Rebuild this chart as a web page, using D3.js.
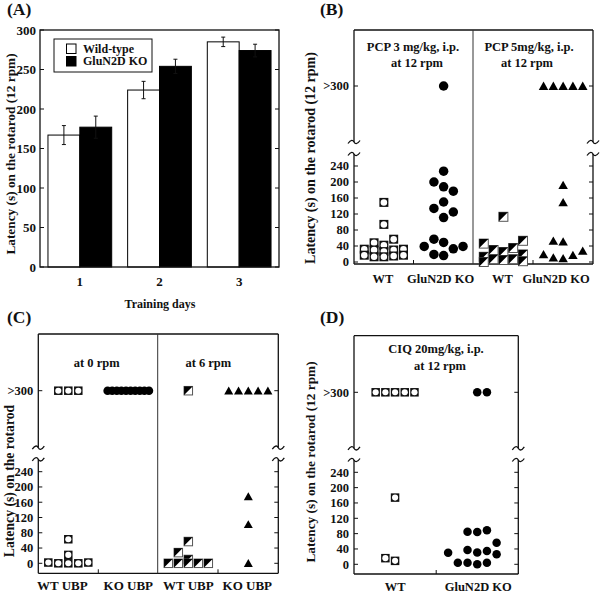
<!DOCTYPE html>
<html><head><meta charset="utf-8">
<script src="https://cdn.jsdelivr.net/npm/d3@7"></script>
<style>
body{margin:0;background:#fff}
svg{display:block}
</style>
</head><body>
<svg id="c" width="600" height="592"></svg>
<script>
// ---------------- DATA ----------------
// Panel A
const days = [1, 2, 3];
const seriesA = ["Wild-type", "GluN2D KO"];
const wtMean = [167, 224, 285];
const wtErr  = [12, 11, 6];
const koMean = [177, 254, 274];
const koErr  = [14, 9, 8];
const ticksA = [0, 50, 100, 150, 200, 250, 300];
const yTitleA = "Latency (s) on the rotarod (12 rpm)";
const xTitleA = "Training days";

// shared scatter axis
const scatterTicks = [0, 40, 80, 120, 160, 200, 240];
const TOP = 300;            // value 300 means ">300" (cut-off)
const topLabel = ">300";

// Panel B (columns of individual latencies per group)
const groupIdsB = ["pcp3WT", "pcp3KO", "pcp5WT", "pcp5KO"];
const groupLabelsB = ["WT", "GluN2D KO", "WT", "GluN2D KO"];
const pcp3WT = [[32, 17], [48, 30, 13], [149, 94, 42, 26, 13], [57, 30, 15], [32, 17]];
const pcp3KO = [[39], [200, 134, 57, 19], [300, 227, 188, 150, 111, 49, 16], [177, 125, 33], [39]];
const pcp5WT = [[46, 13, 0], [30, 7], [113, 25, 5], [35, 7], [53, 19, 2]];
const pcp5KO = [[300, 19], [300, 53, 11], [300, 192, 149, 51, 9], [300, 17], [300, 28]];
const titlesB = [["PCP 3 mg/kg, i.p.", "at 12 rpm"], ["PCP 5mg/kg, i.p.", "at 12 rpm"]];
const yTitleB = "Latency (s) on the rotarod  (12 rpm)";

// Panel C
const groupIdsC = ["ubp0WT", "ubp0KO", "ubp6WT", "ubp6KO"];
const groupLabelsC = ["WT UBP", "KO UBP", "WT UBP", "KO UBP"];
const ubp0WT = [[2], [300, 0], [300, 63, 22, 0], [300, 0], [2]];
const ubp0KO = [[300], [300], [300], [300], [300], [300], [300], [300], [300], [300]];
const ubp6WT = [[0], [28, 0], [300, 57, 10, 0], [0], [0]];
const ubp6KO = [[300], [300], [300, 175, 102, 0], [300], [300]];
const titlesC = [["at 0 rpm"], ["at 6 rpm"]];
const yTitleC = "Latency (s) on the rotarod";

// Panel D
const groupIdsD = ["ciqWT", "ciqKO"];
const groupLabelsD = ["WT", "GluN2D KO"];
const ciqWT = [[300], [300, 16], [300, 174, 9], [300], [300]];
const ciqKO = [[30], [4], [85, 37, 4], [300, 84, 31, 0], [300, 89, 35, 4], [56, 26], []];
const titlesD = [["CIQ 20mg/kg, i.p.", "at 12 rpm"]];
const yTitleD = "Latency (s) on the rotarod  (12 rpm)";

// ---------------- DRAW ----------------
const svg = d3.select("#c").style("font-family", "Liberation Serif").style("font-weight", "bold");
const INK = "#111";

function label(g, x, y, s, size, anchor = "middle") {
  return g.append("text").attr("x", x).attr("y", y).attr("font-size", size)
    .style("font-family", "Liberation Serif").attr("font-weight", "bold").attr("fill", INK)
    .attr("text-anchor", anchor).text(s);
}
function vtitle(g, x, y, s, size) {
  g.append("text").attr("transform", `translate(${x},${y}) rotate(-90)`)
    .style("font-family", "Liberation Serif").attr("font-weight", "bold").attr("fill", INK)
    .attr("font-size", size).attr("text-anchor", "middle").text(s);
}
function line(g, x1, y1, x2, y2, w = 1.2, c = INK) {
  g.append("line").attr("x1", x1).attr("y1", y1).attr("x2", x2).attr("y2", y2)
    .attr("stroke", c).attr("stroke-width", w);
}

// ===== Panel A =====
(function () {
  const P = { x0: 40, x1: 279, top: 30, bottom: 267 };
  const g = svg.append("g");
  const y = d3.scaleLinear().domain([0, 300]).range([P.bottom, P.top]);
  const x = d3.scaleBand().domain(days).range([P.x0, P.x1]).paddingInner(0.2).paddingOuter(0.1);
  const xs = d3.scaleBand().domain(seriesA).range([0, x.bandwidth()]);
  const bars = days.flatMap((d, i) => [
    { day: d, s: seriesA[0], m: wtMean[i], e: wtErr[i] },
    { day: d, s: seriesA[1], m: koMean[i], e: koErr[i] }]);
  g.selectAll("rect.bar").data(bars).join("rect")
    .attr("x", d => x(d.day) + xs(d.s)).attr("y", d => y(d.m))
    .attr("width", xs.bandwidth()).attr("height", d => y(0) - y(d.m))
    .attr("fill", d => d.s === seriesA[0] ? "#fff" : "#000")
    .attr("stroke", "#000").attr("stroke-width", 1);
  bars.forEach(d => {
    const cx = x(d.day) + xs(d.s) + xs.bandwidth() / 2;
    line(g, cx, y(d.m - d.e), cx, y(d.m + d.e), 1);
    line(g, cx - 2, y(d.m + d.e), cx + 2, y(d.m + d.e), 1);
    line(g, cx - 2, y(d.m - d.e), cx + 2, y(d.m - d.e), 1);
  });
  g.append("rect").attr("x", P.x0).attr("y", P.top).attr("width", P.x1 - P.x0)
    .attr("height", P.bottom - P.top).attr("fill", "none").attr("stroke", INK).attr("stroke-width", 1.3);
  ticksA.forEach(t => {
    line(g, P.x0, y(t), P.x0 + 4, y(t), 1);
    line(g, P.x1 - 4, y(t), P.x1, y(t), 1);
    label(g, P.x0 - 4, y(t) + 4.5, t, 13, "end");
  });
  days.forEach(d => label(g, x(d) + x.bandwidth() / 2, 286, d, 13));
  label(g, 160, 307.5, xTitleA, 12);
  vtitle(g, 15, 154, yTitleA, 13.3);
  label(g, 7, 15, "(A)", 17.5, "start");
  // legend
  g.append("rect").attr("x", 54).attr("y", 39).attr("width", 98).attr("height", 33)
    .attr("fill", "#fff").attr("stroke", INK).attr("stroke-width", 1);
  seriesA.forEach((s, i) => {
    g.append("rect").attr("x", 66.5).attr("y", 44 + i * 12.5).attr("width", 9.5).attr("height", 9.5)
      .attr("fill", i === 0 ? "#fff" : "#000").attr("stroke", "#000").attr("stroke-width", 1);
    label(g, 83, 52.5 + i * 12.5, s, 12, "start");
  });
})();

// ===== scatter panels =====
function squiggle(g, x, y) {
  g.append("path")
    .attr("d", `M${x - 6},${y + 1.5} C${x - 3},${y - 3} ${x - 1},${y - 2} ${x},${y} S${x + 3},${y + 3} ${x + 6},${y - 1.5}`)
    .attr("fill", "none").attr("stroke", INK).attr("stroke-width", 1.3);
}

function marker(g, type, cx, cy, sz) {
  if (type === "sqc") {
    g.append("rect").attr("x", cx - sz / 2).attr("y", cy - sz / 2).attr("width", sz).attr("height", sz)
      .attr("fill", "#111");
    g.append("circle").attr("cx", cx).attr("cy", cy).attr("r", sz * 0.36).attr("fill", "#fff");
  } else if (type === "half") {
    g.append("rect").attr("x", cx - sz / 2).attr("y", cy - sz / 2).attr("width", sz).attr("height", sz)
      .attr("fill", "#fff").attr("stroke", "#555").attr("stroke-width", 1);
    g.append("path").attr("d", `M${cx - sz / 2},${cy - sz / 2} L${cx + sz / 2},${cy - sz / 2} L${cx - sz / 2},${cy + sz / 2} Z`)
      .attr("fill", "#000");
  } else if (type === "circ") {
    g.append("circle").attr("cx", cx).attr("cy", cy).attr("r", sz / 2).attr("fill", "#000");
  } else if (type === "tri") {
    const h = sz * 0.82;
    g.append("path").attr("d", `M${cx},${cy - h / 2 - 0.5} L${cx + sz / 2},${cy + h / 2} L${cx - sz / 2},${cy + h / 2} Z`)
      .attr("fill", "#000");
  }
}

function scatterPanel(cfg) {
  const g = svg.append("g");
  const y = d3.scaleLinear().domain([0, 240, TOP]).range(cfg.yRange);
  const x = d3.scalePoint().domain(cfg.ids).range([cfg.x0, cfg.x1]).padding(0.5);
  const [b1, b2] = cfg.breaks;
  // frame
  line(g, cfg.x0, cfg.top, cfg.x1, cfg.top, 1.3);
  line(g, cfg.x0, cfg.bottom, cfg.x1, cfg.bottom, 1.3);
  [cfg.x0, cfg.x1].forEach(ax => {
    line(g, ax, cfg.top, ax, b1, 1.3);
    line(g, ax, b2, ax, cfg.bottom, 1.3);
    squiggle(g, ax, b1);
    squiggle(g, ax, b2);
  });
  if (cfg.divider) line(g, cfg.divider, cfg.top, cfg.divider, cfg.bottom, 1, "#333");
  // y ticks
  scatterTicks.concat([TOP]).forEach(t => {
    line(g, cfg.x0, y(t), cfg.x0 + 4, y(t), 1);
    line(g, cfg.x1 - 4, y(t), cfg.x1, y(t), 1);
    label(g, cfg.x0 - 5, y(t) + 4.3, t === TOP ? topLabel : t, 12.5, "end");
  });
  // bottom ticks at sub-panel centres
  cfg.bottomTicks.forEach(bx => line(g, bx, cfg.bottom, bx, cfg.bottom - 4, 1));
  // x labels
  cfg.ids.forEach((id, i) => label(g, x(id) + cfg.labelDx[i], cfg.labelY, cfg.labels[i], cfg.labelSize));
  // titles
  cfg.titles.forEach((lines, i) => lines.forEach((s, j) =>
    label(g, cfg.titleX[i][j], cfg.titleY[j], s, 12.5)));
  // points
  cfg.ids.forEach((id, gi) => {
    const cols = cfg.data[gi], n = cols.length, sp = cfg.spacing[gi];
    const pts = cols.flatMap((col, ci) => col.map(v => ({ v, cx: x(id) + (ci - (n - 1) / 2) * sp })));
    pts.forEach(p => marker(g, cfg.markers[gi], p.cx, y(p.v), cfg.sizes[gi]));
  });
  vtitle(g, cfg.yTitleX, cfg.yTitleY, cfg.yTitle, cfg.yTitleSize);
  label(g, cfg.tagX, cfg.tagY, cfg.tag, 17.5, "start");
}

// Panel B
scatterPanel({
  x0: 354, x1: 593, top: 30, bottom: 264, yRange: [262, 166, 86], breaks: [142, 154],
  divider: 473, bottomTicks: [413.5, 533],
  ids: groupIdsB, labels: groupLabelsB, labelY: 283, labelSize: 12.5, labelDx: [-1, -3, -1, -7],
  data: [pcp3WT, pcp3KO, pcp5WT, pcp5KO],
  markers: ["sqc", "circ", "half", "tri"], sizes: [9, 9.5, 9, 9.5], spacing: [9.8, 9.7, 9.8, 9.8],
  titles: titlesB, titleX: [[413, 417], [529, 527]], titleY: [51, 67],
  yTitle: yTitleB, yTitleX: 315, yTitleY: 158, yTitleSize: 14,
  tag: "(B)", tagX: 320, tagY: 15
});

// Panel C
scatterPanel({
  x0: 38.3, x1: 278.3, top: 334, bottom: 573.3, yRange: [563.3, 471.7, 390.7], breaks: [447.7, 459.3],
  divider: 157.7, bottomTicks: [98.3, 218],
  ids: groupIdsC, labels: groupLabelsC, labelY: 590, labelSize: 13, labelDx: [-6, 0, 0, -1],
  data: [ubp0WT, ubp0KO, ubp6WT, ubp6KO],
  markers: ["sqc", "circ", "half", "tri"], sizes: [8.5, 8.5, 8.5, 9], spacing: [10, 4.6, 10, 9.8],
  titles: titlesC, titleX: [[96.7], [208.3]], titleY: [366.5],
  yTitle: yTitleC, yTitleX: 14, yTitleY: 481, yTitleSize: 13.7,
  tag: "(C)", tagX: 7, tagY: 323
});

// Panel D
scatterPanel({
  x0: 354, x1: 518.3, top: 335.7, bottom: 574, yRange: [564.3, 472.3, 392.3], breaks: [448.3, 460],
  divider: null, bottomTicks: [436.2],
  ids: groupIdsD, labels: groupLabelsD, labelY: 590.5, labelSize: 12.5, labelDx: [0, 1],
  data: [ciqWT, ciqKO],
  markers: ["sqc", "circ"], sizes: [8.5, 8.5], spacing: [9.7, 9.7],
  titles: titlesD, titleX: [[436, 440]], titleY: [352.5, 369.5],
  yTitle: yTitleD, yTitleX: 315, yTitleY: 462, yTitleSize: 13.3,
  tag: "(D)", tagX: 320, tagY: 323
});
</script>
</body></html>
